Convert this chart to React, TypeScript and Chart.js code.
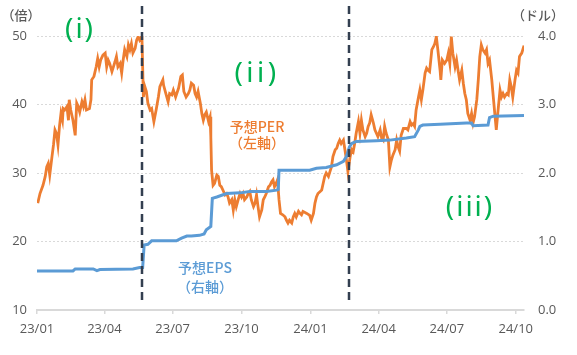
import React, { useEffect, useRef } from "react";
import { Chart, registerables } from "chart.js";

Chart.register(...registerables);

// x = days since 2023-01-01
const tickDays = [0, 90, 181, 273, 365, 456, 547, 639];
const tickLabels = ["23/01", "23/04", "23/07", "23/10", "24/01", "24/04", "24/07", "24/10"];
const eventDays = [140, 416];

const perDays = [
  1, 4, 8, 11, 13, 15, 17, 20, 22, 24, 26, 28, 30, 32, 34, 35, 37, 40, 42, 43, 45, 48, 51, 53, 55, 57, 60, 62, 64, 66,
  70, 72, 73, 76, 79, 81, 83, 85, 88, 91, 93, 95, 97, 100, 102, 104, 106, 108, 111, 113, 115, 117, 120, 122, 124, 126,
  128, 131, 133, 135, 137, 140, 142, 144, 146, 148, 151, 153, 156, 159, 162, 164, 168, 169, 172, 175, 177, 180, 182,
  185, 189, 192, 194, 196, 199, 202, 204, 206, 209, 211, 213, 215, 218, 220, 222, 224, 226, 229, 231, 232, 233, 235,
  237, 240, 242, 244, 246, 249, 251, 253, 255, 257, 260, 262, 264, 266, 269, 271, 273, 275, 277, 280, 282, 284, 286,
  289, 291, 293, 295, 297, 300, 302, 304, 306, 309, 311, 313, 315, 317, 320, 321, 323, 325, 328, 331, 333, 335, 337,
  340, 342, 344, 346, 349, 351, 353, 355, 360, 364, 366, 369, 371, 373, 375, 378, 380, 382, 384, 386, 389, 391, 393,
  395, 398, 400, 402, 404, 406, 409, 411, 413, 415, 418, 420, 422, 424, 426, 429, 431, 433, 435, 438, 440, 442, 444,
  446, 449, 451, 453, 455, 458, 460, 462, 464, 466, 469, 471, 473, 475, 478, 480, 482, 484, 486, 489, 491, 493, 495,
  498, 500, 502, 504, 506, 509, 511, 513, 515, 518, 520, 522, 524, 527, 529, 531, 533, 535, 538, 539, 541, 544, 547,
  549, 551, 553, 555, 558, 560, 562, 564, 567, 569, 571, 573, 575, 578, 580, 582, 584, 587, 589, 591, 593, 595, 598,
  600, 602, 604, 607, 609, 611, 613, 615, 618, 620, 622, 624, 627, 629, 631, 633, 635, 638, 640, 642, 644, 647, 650,
];
const perValues = [
  25.6, 27.0, 28.2, 29.5, 30.9, 31.4, 29.7, 32.4, 34.1, 36.3, 35.8, 34.1, 36.8, 38.7, 37.7, 39.4, 39.2, 39.7, 37.7,
  40.7, 39.2, 37.7, 35.5, 40.2, 39.7, 38.9, 40.4, 39.7, 40.7, 39.2, 39.4, 40.7, 43.6, 44.1, 45.5, 46.7, 45.5, 46.5,
  47.2, 47.5, 45.5, 46.5, 46.0, 44.8, 45.5, 46.2, 47.0, 45.5, 46.0, 44.6, 46.5, 48.0, 47.0, 48.7, 48.0, 48.9, 47.5,
  48.2, 49.4, 49.9, 49.4, 50.0, 41.1, 42.6, 41.9, 40.2, 39.2, 39.4, 37.5, 39.2, 41.1, 42.6, 43.6, 42.8, 41.6, 40.4,
  41.6, 41.4, 42.1, 41.1, 42.4, 44.1, 44.3, 41.9, 41.1, 41.6, 42.1, 43.1, 42.8, 41.6, 41.1, 41.9, 40.2, 38.7, 37.7,
  38.5, 38.9, 37.5, 38.2, 35.3, 30.4, 28.2, 28.5, 29.7, 29.5, 28.2, 28.0, 27.3, 26.8, 27.0, 26.5, 25.6, 26.1, 24.6,
  26.1, 25.1, 26.3, 27.0, 26.5, 27.0, 26.1, 26.5, 27.0, 27.3, 26.1, 25.1, 25.6, 26.8, 25.1, 23.6, 24.6, 26.1, 26.5,
  27.0, 28.0, 28.2, 28.7, 29.0, 28.0, 28.7, 29.0, 26.1, 24.1, 23.9, 23.6, 23.1, 22.7, 23.1, 22.7, 23.6, 24.1, 23.6,
  24.4, 24.1, 23.9, 24.4, 24.1, 23.8, 23.1, 24.1, 25.6, 26.5, 27.0, 27.3, 27.5, 28.5, 29.5, 30.0, 29.5, 30.2, 30.9,
  32.4, 33.4, 33.6, 34.3, 34.8, 34.3, 34.8, 33.4, 31.9, 30.2, 32.4, 33.4, 33.1, 34.3, 35.8, 37.5, 35.8, 37.7, 36.3,
  35.3, 35.8, 36.8, 37.3, 38.5, 37.3, 36.3, 35.8, 35.3, 36.3, 35.1, 34.8, 36.8, 35.8, 34.8, 30.9, 31.9, 32.6, 33.4,
  34.8, 33.8, 33.2, 35.5, 36.5, 36.5, 36.5, 36.3, 37.5, 37.0, 37.2, 36.8, 39.2, 41.0, 42.1, 40.7, 42.1, 44.6, 45.3,
  45.0, 44.8, 48.0, 48.4, 48.9, 49.9, 48.0, 45.0, 43.6, 46.5, 46.0, 46.5, 47.5, 46.0, 49.9, 47.5, 45.5, 46.5, 45.0,
  43.6, 45.0, 43.1, 41.6, 40.7, 38.7, 37.7, 38.7, 37.3, 38.2, 40.7, 43.6, 47.0, 48.7, 48.0, 47.5, 48.0, 46.0, 46.5,
  43.6, 41.1, 38.7, 36.3, 38.7, 42.1, 41.1, 41.6, 41.1, 41.6, 41.4, 43.6, 42.6, 41.1, 43.6, 45.0, 44.6, 47.0, 47.5,
  48.6,
];

const epsDays = [
  0, 48, 51, 75, 80, 84, 128, 137, 141, 143, 148, 153, 186, 193, 200, 206, 217, 223, 226, 232, 234, 240, 253, 271,
  284, 306, 320, 322, 323, 364, 373, 386, 400, 409, 413, 417, 420, 426, 453, 471, 493, 504, 509, 511, 515, 538, 573,
  580, 582, 602, 604, 609, 650,
];
const epsValues = [
  0.57, 0.57, 0.6, 0.6, 0.575, 0.59, 0.6, 0.62, 0.62, 0.95, 0.96, 1.01, 1.01, 1.05, 1.08, 1.08, 1.09, 1.11, 1.17,
  1.22, 1.63, 1.65, 1.7, 1.71, 1.73, 1.73, 1.75, 1.76, 2.04, 2.04, 2.07, 2.08, 2.12, 2.17, 2.24, 2.38, 2.43, 2.46,
  2.47, 2.48, 2.51, 2.53, 2.63, 2.68, 2.7, 2.71, 2.73, 2.73, 2.69, 2.7, 2.81, 2.83, 2.84,
];

const ORANGE = "#ED7D31";
const BLUE = "#5B9BD5";
const GREEN = "#00B050";
const LABEL = "#595959";
const CJK = '"Noto Sans CJK JP", "Noto Sans", sans-serif';

const overlayPlugin = {
  id: "overlay",
  afterDatasetsDraw(chart: any) {
    const { ctx, chartArea, scales } = chart;
    ctx.save();
    ctx.strokeStyle = "#333F50";
    ctx.lineWidth = 2.5;
    ctx.setLineDash([8, 5]);
    eventDays.forEach((d) => {
      const x = Math.round(scales.x.getPixelForValue(d));
      ctx.beginPath();
      ctx.moveTo(x, chartArea.top - 30);
      ctx.lineTo(x, chartArea.bottom - 5);
      ctx.stroke();
    });
    ctx.restore();
  },
  afterDraw(chart: any) {
    const { ctx } = chart;
    ctx.save();
    ctx.textBaseline = "middle";
    ctx.textAlign = "center";
    // unit labels
    ctx.fillStyle = LABEL;
    ctx.font = `500 13px ${CJK}`;
    ctx.fillText("（倍）", 21, 15);
    ctx.fillText("（ドル）", 538, 15);
    // phase labels
    ctx.fillStyle = GREEN;
    ctx.font = '28px "Noto Sans", sans-serif';
    const phases: [string, number, number, string][] = [
      ["(i)", 80, 30, "2px"],
      ["(ii)", 257, 74, "3.5px"],
      ["(iii)", 470, 208, "2px"],
    ];
    phases.forEach(([t, x, y, ls]) => {
      (ctx as any).letterSpacing = ls;
      ctx.fillText(t, x, y);
    });
    (ctx as any).letterSpacing = "0px";
    // series labels
    ctx.font = `500 14px ${CJK}`;
    ctx.fillStyle = ORANGE;
    ctx.fillText("予想PER", 257, 127);
    ctx.fillText("（左軸）", 257, 143);
    ctx.fillStyle = BLUE;
    ctx.fillText("予想EPS", 205, 268);
    ctx.fillText("（右軸）", 205, 287);
    ctx.restore();
  },
};

export default function App() {
  const ref = useRef<HTMLCanvasElement>(null);
  useEffect(() => {
    document.body.style.margin = "0";
    Chart.defaults.font.family = '"Open Sans", "Noto Sans", "Noto Sans CJK JP", sans-serif';
    const chart = new Chart(ref.current as HTMLCanvasElement, {
      type: "line",
      data: {
        datasets: [
          {
            label: "予想EPS（右軸）",
            data: epsDays.map((d, i) => ({ x: d, y: epsValues[i] })),
            borderColor: BLUE,
            borderWidth: 3,
            pointRadius: 0,
            tension: 0,
            yAxisID: "y1",
          },
          {
            label: "予想PER（左軸）",
            data: perDays.map((d, i) => ({ x: d, y: perValues[i] })),
            borderColor: ORANGE,
            borderWidth: 2.8,
            pointRadius: 0,
            tension: 0,
            yAxisID: "y",
          },
        ],
      },
      options: {
        animation: false,
        responsive: false,
        layout: { padding: { top: 36, left: 0, right: 0, bottom: 0 } },
        plugins: { legend: { display: false }, tooltip: { enabled: false } },
        scales: {
          x: {
            type: "linear",
            min: 0,
            max: 650,
            afterBuildTicks: (s: any) => {
              s.ticks = tickDays.map((v) => ({ value: v }));
            },
            afterFit: (s: any) => {
              s.height = 45;
            },
            ticks: {
              autoSkip: false,
              maxRotation: 0,
              padding: 7,
              color: LABEL,
              font: { size: 13 },
              callback: (_v: any, i: number) => tickLabels[i],
            },
            grid: { drawOnChartArea: false, drawTicks: true, tickLength: 4, color: "#D9D9D9", lineWidth: 1.5 },
            border: { display: true, color: "#D9D9D9", width: 2 },
          },
          y: {
            position: "left",
            min: 10,
            max: 50,
            afterFit: (s: any) => {
              s.width = 37;
            },
            ticks: { stepSize: 10, padding: 10, color: LABEL, font: { size: 13 } },
            grid: { drawTicks: false, color: "#D9D9D9", lineWidth: 1 },
            border: { display: false, dash: [2, 2] },
          },
          y1: {
            position: "right",
            min: 0,
            max: 4,
            afterFit: (s: any) => {
              s.width = 53;
            },
            ticks: {
              stepSize: 1,
              padding: 14,
              color: LABEL,
              font: { size: 13 },
              callback: (v: any) => Number(v).toFixed(1),
            },
            grid: { drawOnChartArea: false, drawTicks: false },
            border: { display: false },
          },
        },
      },
      plugins: [overlayPlugin],
    } as any);
    return () => chart.destroy();
  }, []);
  return (
    <div style={{ width: 577, height: 355 }}>
      <canvas ref={ref} width={577} height={355} style={{ display: "block" }} />
    </div>
  );
}
